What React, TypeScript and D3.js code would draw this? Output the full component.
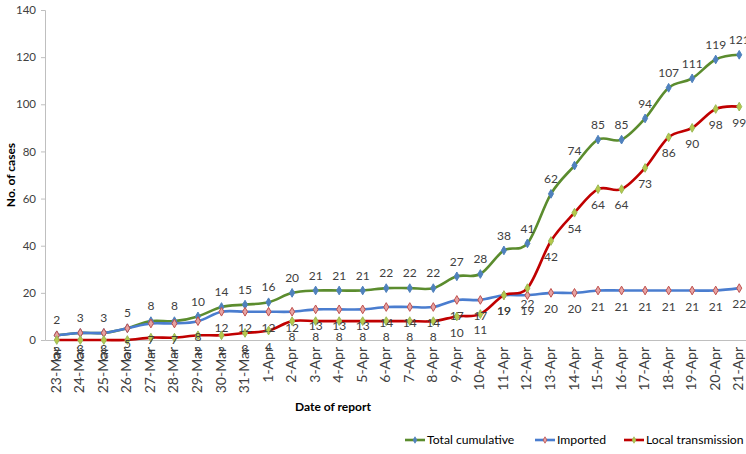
import React from "react";
import * as d3 from "d3";

const dates = [
    "23-Mar", "24-Mar", "25-Mar", "26-Mar", "27-Mar", "28-Mar", "29-Mar", "30-Mar", "31-Mar",
    "1-Apr", "2-Apr", "3-Apr", "4-Apr", "5-Apr", "6-Apr", "7-Apr", "8-Apr", "9-Apr", "10-Apr",
    "11-Apr", "12-Apr", "13-Apr", "14-Apr", "15-Apr", "16-Apr", "17-Apr", "18-Apr", "19-Apr",
    "20-Apr", "21-Apr",
];
const totalCumulative = [2, 3, 3, 5, 8, 8, 10, 14, 15, 16, 20, 21, 21, 21, 22, 22, 22, 27, 28, 38, 41, 62, 74, 85, 85, 94, 107, 111, 119, 121];
const imported = [2, 3, 3, 5, 7, 7, 8, 12, 12, 12, 12, 13, 13, 13, 14, 14, 14, 17, 17, 19, 19, 20, 20, 21, 21, 21, 21, 21, 21, 22];
const localTransmission = [0, 0, 0, 0, 1, 1, 2, 2, 3, 4, 8, 8, 8, 8, 8, 8, 8, 10, 11, 19, 22, 42, 54, 64, 64, 73, 86, 90, 98, 99];
const yTicks = [0, 20, 40, 60, 80, 100, 120, 140];

interface Series {
    name: string;
    values: number[];
    color: string;
    markerFill: string;
    markerStroke: string;
    labelDy: number;
}

const series: Series[] = [
    { name: "Total cumulative", values: totalCumulative, color: "#5b8c2e", markerFill: "#4f81bd", markerStroke: "#4f81bd", labelDy: -15 },
    { name: "Imported", values: imported, color: "#4a7dcf", markerFill: "#e6a3a2", markerStroke: "#c0504d", labelDy: 16 },
    { name: "Local transmission", values: localTransmission, color: "#c00000", markerFill: "#b7c84a", markerStroke: "#9bbb59", labelDy: 16 },
];

const FONT = "Lato, 'Noto Sans', sans-serif";

const App = () => {
    const svgRef = React.useRef(null);
    const width = 746;
    const height = 454;

    React.useEffect(() => {
        const svg = d3.select(svgRef.current);
        svg.selectAll("*").remove();

        const xScale = d3.scaleBand().domain(dates).range([45, 751]);
        const yScale = d3.scaleLinear().domain([0, 140]).range([340, 10]);
        const cx = (d: string) => (xScale(d) as number) + xScale.bandwidth() / 2;

        // Y axis
        const yAxis = d3.axisLeft(yScale).tickValues(yTicks).tickSize(4).tickPadding(5);
        const yG = svg.append("g").attr("transform", "translate(45,0)").call(yAxis);
        yG.select(".domain").attr("stroke", "#bfbfbf");
        yG.selectAll("line").attr("stroke", "#bfbfbf");
        yG.selectAll("text").attr("fill", "#404040").attr("font-size", 11.5).attr("font-family", FONT);

        // X axis
        const xAxis = d3.axisBottom(xScale).tickSize(0).tickPadding(0);
        const xG = svg.append("g").attr("transform", "translate(0,340)").call(xAxis);
        xG.select(".domain").attr("stroke", "#bfbfbf");
        xG.selectAll("text")
            .attr("fill", "#404040")
            .attr("font-size", 14)
            .attr("font-family", FONT)
            .attr("text-anchor", "end")
            .attr("dy", null)
            .attr("y", 0)
            .attr("transform", "translate(4,7) rotate(-90)");

        // Lines
        const line = d3
            .line<number>()
            .x((_, i) => cx(dates[i]))
            .y((d) => yScale(d))
            .curve(d3.curveCatmullRom.alpha(0));
        const diamond = d3.symbol().type(d3.symbolDiamond).size(22);

        series.forEach((s) => {
            svg.append("path")
                .attr("fill", "none")
                .attr("stroke", s.color)
                .attr("stroke-width", 2.6)
                .attr("d", line(s.values));
            svg.append("g")
                .selectAll("path")
                .data(s.values)
                .enter()
                .append("path")
                .attr("d", diamond)
                .attr("transform", (d, i) => `translate(${cx(dates[i])},${yScale(d)})`)
                .attr("fill", s.markerFill)
                .attr("stroke", s.markerStroke)
                .attr("stroke-width", 1);
        });

        // Data labels
        series.forEach((s) => {
            svg.append("g")
                .selectAll("text")
                .data(s.values)
                .enter()
                .append("text")
                .attr("x", (d, i) => cx(dates[i]))
                .attr("y", (d) => yScale(d) + s.labelDy)
                .attr("dy", "0.35em")
                .attr("text-anchor", "middle")
                .attr("font-size", 12)
                .attr("font-family", FONT)
                .attr("fill", "#404040")
                .text((d) => d);
        });

        // Axis titles
        svg.append("text")
            .attr("transform", "translate(15,175) rotate(-90)")
            .attr("text-anchor", "middle")
            .attr("font-size", 12)
            .attr("font-weight", "bold")
            .attr("font-family", FONT)
            .attr("fill", "#000")
            .text("No. of cases");
        svg.append("text")
            .attr("x", 333)
            .attr("y", 411)
            .attr("text-anchor", "middle")
            .attr("font-size", 12)
            .attr("font-weight", "bold")
            .attr("font-family", FONT)
            .attr("fill", "#000")
            .text("Date of report");

        // Legend
        const legendX = [405, 535, 624];
        series.forEach((s, i) => {
            const g = svg.append("g").attr("transform", `translate(${legendX[i]},440)`);
            g.append("line").attr("x1", 0).attr("x2", 20).attr("stroke", s.color).attr("stroke-width", 2.6);
            g.append("path")
                .attr("d", d3.symbol().type(d3.symbolDiamond).size(12))
                .attr("transform", "translate(10,0)")
                .attr("fill", s.markerFill)
                .attr("stroke", s.markerStroke)
                .attr("stroke-width", 0.8);
            g.append("text")
                .attr("x", 22)
                .attr("dy", "0.35em")
                .attr("font-size", 12.2)
                .attr("font-family", FONT)
                .attr("fill", "#000")
                .text(s.name);
        });
    }, []);

    return (
        <svg
            ref={svgRef}
            width={width}
            height={height}
            style={{ position: "absolute", left: 0, top: 0, background: "#fff" }}
        />
    );
};

export default App;
